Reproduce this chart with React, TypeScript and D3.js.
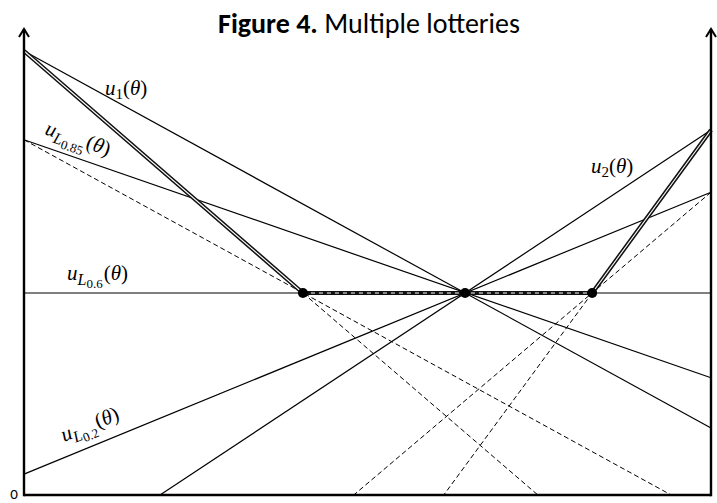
import React, { useEffect, useRef } from 'react';
import * as d3 from 'd3';

// theta on the x axis, utility on the y axis (both schematic, 0..1)
const thetaRange = [0, 1];
const utilRange = [0, 1];

// solid utility lines: [theta, u] at each end
const lineNames = ['u1', 'u2', 'uL0.85', 'uL0.6', 'uL0.2'];
const lineFrom = [[0, 1.0], [0.198, 0], [0, 0.8], [0, 0.455], [0, 0.047]];
const lineTo = [[1, 0.151], [1, 0.822], [1, 0.264], [1, 0.455], [1, 0.682]];

// upper envelope (double line)
const envTheta = [0, 0.406, 0.827, 1];
const envU = [1.0, 0.455, 0.455, 0.822];

// dashed continuations
const dashFrom = [[0, 0.8], [0.406, 0.455], [0.827, 0.455], [1, 0.682]];
const dashTo = [[0.942, 0], [0.748, 0], [0.611, 0], [0.48, 0]];

// kinks
const dotTheta = [0.406, 0.642, 0.827];
const dotU = 0.455;

const App = () => {
  const svgRef = useRef(null);

  useEffect(() => {
    const w = 717;
    const h = 503;
    const svg = d3.select(svgRef.current).attr('width', w).attr('height', h);
    svg.selectAll('*').remove();

    const x = d3.scaleLinear().domain(thetaRange).range([24, 711]);
    const y = d3.scaleLinear().domain(utilRange).range([495, 51]);
    const line = d3.line().x((d) => x(d[0])).y((d) => y(d[1]));

    // thin solid lines
    svg.selectAll('.sl')
      .data(lineNames)
      .join('path')
      .attr('d', (d, i) => line([lineFrom[i], lineTo[i]]))
      .attr('stroke', '#000')
      .attr('stroke-width', 1.2)
      .attr('fill', 'none');

    // dashed lines
    svg.selectAll('.dl')
      .data(dashFrom)
      .join('path')
      .attr('d', (d, i) => line([dashFrom[i], dashTo[i]]))
      .attr('stroke', '#000')
      .attr('stroke-width', 1)
      .attr('stroke-dasharray', '5,3')
      .attr('fill', 'none');

    // envelope: dark outline with white core
    const env = envTheta.map((t, i) => [t, envU[i]]);
    svg.append('path')
      .attr('d', line(env))
      .attr('stroke', '#111')
      .attr('stroke-width', 4.2)
      .attr('stroke-linejoin', 'round')
      .attr('fill', 'none');
    svg.append('path')
      .attr('d', line([env[0], env[1]]))
      .attr('stroke', '#fff')
      .attr('stroke-width', 1.1)
      .attr('fill', 'none');
    svg.append('path')
      .attr('d', line([env[2], env[3]]))
      .attr('stroke', '#fff')
      .attr('stroke-width', 1.1)
      .attr('fill', 'none');
    svg.append('path')
      .attr('d', line([env[1], env[2]]))
      .attr('stroke', '#fff')
      .attr('stroke-width', 1.1)
      .attr('stroke-dasharray', '4,4')
      .attr('fill', 'none');

    // dots
    svg.selectAll('.dot')
      .data(dotTheta)
      .join('circle')
      .attr('cx', (d) => x(d))
      .attr('cy', y(dotU))
      .attr('r', 5)
      .attr('fill', '#000');

    // axes
    const axisG = svg.append('g').attr('stroke', '#000').attr('fill', 'none');
    axisG.append('path').attr('d', `M${x(0)},${y(0)}H${x(1)}`).attr('stroke-width', 2.6);
    [x(0), x(1)].forEach((ax) => {
      axisG.append('path').attr('d', `M${ax},${y(0) + 1.3}V29`).attr('stroke-width', 2.4);
      axisG.append('path').attr('d', `M${ax - 5},${37}L${ax},${29}L${ax + 5},${37}`).attr('stroke-width', 2);
    });

    svg.append('text')
      .attr('x', 14)
      .attr('y', 499)
      .attr('text-anchor', 'middle')
      .style('font-family', 'Calibri, Carlito, Lato, sans-serif')
      .style('font-size', '15px')
      .text('0');

    // title
    const title = svg.append('text')
      .attr('x', 369)
      .attr('y', 33)
      .attr('text-anchor', 'middle')
      .style('font-family', 'Calibri, Carlito, Lato, sans-serif')
      .style('font-size', '28px');
    title.append('tspan').style('font-weight', 'bold').text('Figure 4.');
    title.append('tspan').text(' Multiple lotteries');

    // math labels
    const labels = [
      { x: 105, y: 95, rot: 0, sub: '1', subsub: '' },
      { x: 591, y: 173, rot: 0, sub: '2', subsub: '' },
      { x: 44, y: 134, rot: 19, sub: 'L', subsub: '0.85' },
      { x: 67, y: 280, rot: 0, sub: 'L', subsub: '0.6' },
      { x: 64, y: 442, rot: -22, sub: 'L', subsub: '0.2' },
    ];
    labels.forEach((l) => {
      const t = svg.append('text')
        .attr('x', l.x)
        .attr('y', l.y)
        .attr('transform', `rotate(${l.rot},${l.x},${l.y})`)
        .style('font-family', '"Liberation Serif", serif')
        .style('font-size', '21px');
      t.append('tspan').style('font-style', 'italic').text('u');
      if (l.subsub) {
        t.append('tspan').attr('dy', 5).style('font-size', '16px').style('font-style', 'italic').text(l.sub);
        t.append('tspan').attr('dy', 3).style('font-size', '13px').text(l.subsub);
        t.append('tspan').attr('dx', 1).attr('dy', -8).text('(');
      } else {
        t.append('tspan').attr('dy', 4).style('font-size', '15px').text(l.sub);
        t.append('tspan').attr('dy', -4).text('(');
      }
      t.append('tspan').style('font-style', 'italic').text('θ');
      t.append('tspan').text(')');
    });
  }, []);

  return <svg ref={svgRef} style={{ position: 'absolute', left: 0, top: 0, background: '#fff' }}></svg>;
};

export default App;
